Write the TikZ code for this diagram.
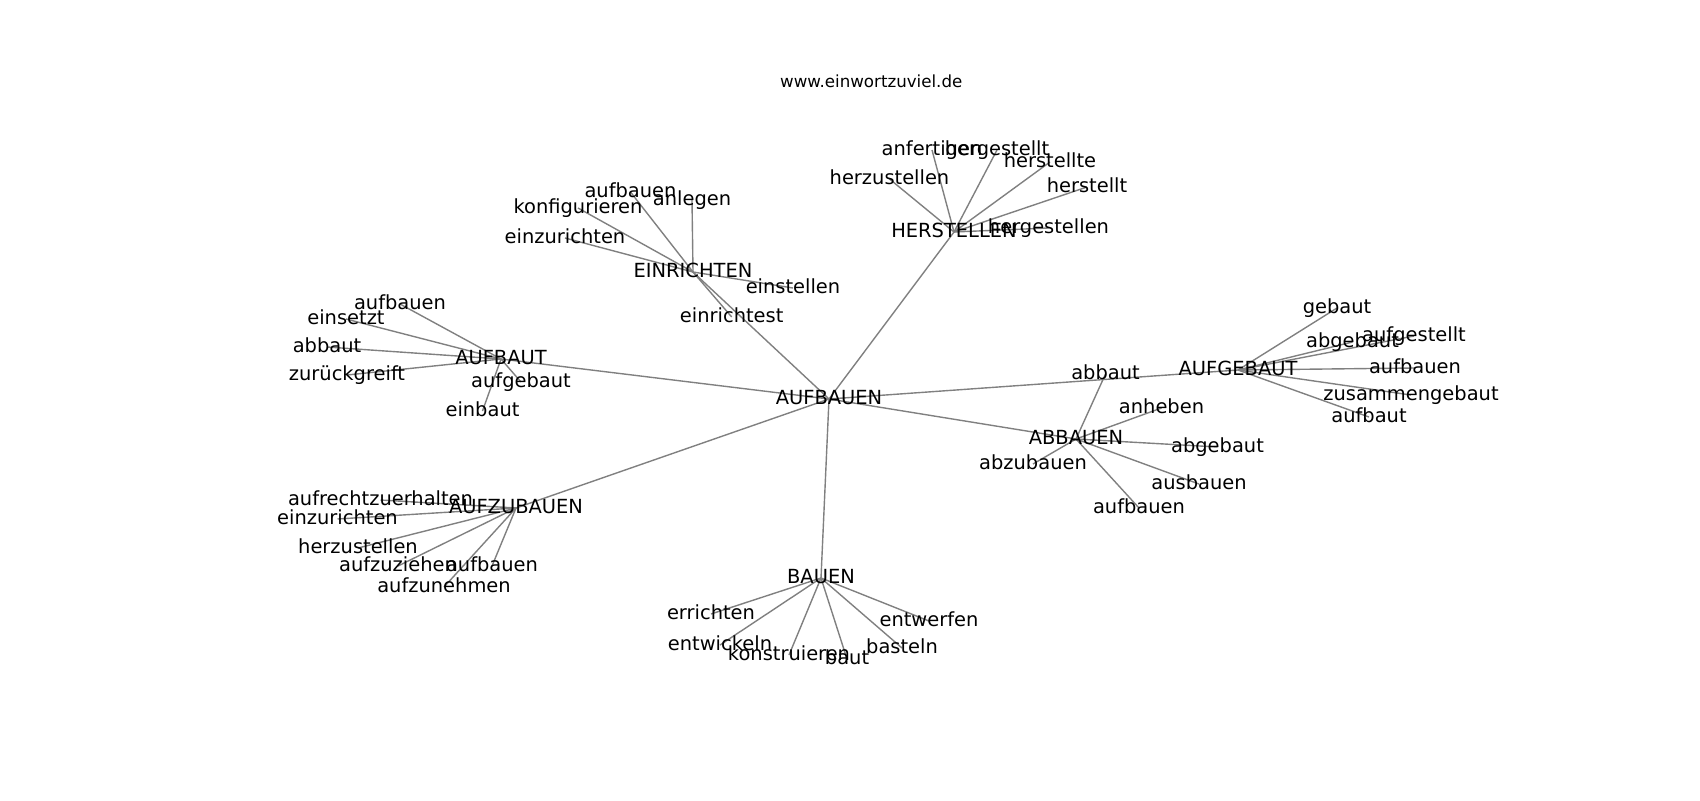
\documentclass[tikz,border=0pt]{standalone}
\usepackage{fontspec}
\setmainfont{DejaVu Sans}
\usetikzlibrary{backgrounds}
\begin{document}
\begin{tikzpicture}[x=0.72pt,y=-0.72pt,
  lbl/.style={font=\fontsize{14}{16}\selectfont, inner sep=0pt, text height=10.64pt, text depth=2.91pt},
  ttl/.style={font=\fontsize{12}{14}\selectfont, inner sep=0pt, anchor=base},
  edge/.style={draw=gray, line width=1pt}]
\useasboundingbox (0,0) rectangle (1700,800);
\node[ttl] (title) at (871.25,87.7) {www.einwortzuviel.de};
% hubs
\node[lbl] (c)  at (829,399) {AUFBAUEN};
\node[lbl] (hs) at (954,232) {HERSTELLEN};
\node[lbl] (ei) at (693,272) {EINRICHTEN};
\node[lbl] (af) at (501,359) {AUFBAUT};
\node[lbl] (az) at (516,508) {AUFZUBAUEN};
\node[lbl] (ba) at (821,578) {BAUEN};
\node[lbl] (ab) at (1076,439) {ABBAUEN};
\node[lbl] (ag) at (1238,370) {AUFGEBAUT};
% HERSTELLEN
\node[lbl] (hs1) at (932,150) {anfertigen};
\node[lbl] (hs2) at (997,150) {hergestellt};
\node[lbl] (hs3) at (1050,162) {herstellte};
\node[lbl] (hs4) at (889.5,179) {herzustellen};
\node[lbl] (hs5) at (1087,187) {herstellt};
\node[lbl] (hs6) at (1048.5,228) {hergestellen};
% EINRICHTEN
\node[lbl] (ei1) at (630.5,192) {aufbauen};
\node[lbl] (ei2) at (692,200) {anlegen};
\node[lbl] (ei3) at (578,208) {konfigurieren};
\node[lbl] (ei4) at (565,238) {einzurichten};
\node[lbl] (ei5) at (793,288) {einstellen};
\node[lbl] (ei6) at (731.7,317) {einrichtest};
% AUFBAUT
\node[lbl] (af1) at (400,304) {aufbauen};
\node[lbl] (af2) at (346,319) {einsetzt};
\node[lbl] (af3) at (327,347) {abbaut};
\node[lbl] (af4) at (347,375) {zurückgreift};
\node[lbl] (af5) at (521,382) {aufgebaut};
\node[lbl] (af6) at (482.5,411) {einbaut};
% AUFZUBAUEN
\node[lbl] (az1) at (380.5,500) {aufrechtzuerhalten};
\node[lbl] (az2) at (337.5,519) {einzurichten};
\node[lbl] (az3) at (358,548) {herzustellen};
\node[lbl] (az4) at (398,566) {aufzuziehen};
\node[lbl] (az5) at (492,566) {aufbauen};
\node[lbl] (az6) at (444,587) {aufzunehmen};
% BAUEN
\node[lbl] (ba1) at (711,614) {errichten};
\node[lbl] (ba2) at (720,645) {entwickeln};
\node[lbl] (ba3) at (789,655) {konstruieren};
\node[lbl] (ba4) at (847,659) {baut};
\node[lbl] (ba5) at (902,648) {basteln};
\node[lbl] (ba6) at (929,621) {entwerfen};
% ABBAUEN
\node[lbl] (ab1) at (1105.5,374) {abbaut};
\node[lbl] (ab2) at (1161.5,408) {anheben};
\node[lbl] (ab3) at (1217.5,447) {abgebaut};
\node[lbl] (ab4) at (1199,484) {ausbauen};
\node[lbl] (ab5) at (1139,508) {aufbauen};
\node[lbl] (ab6) at (1033,464) {abzubauen};
% AUFGEBAUT
\node[lbl] (ag1) at (1337,308) {gebaut};
\node[lbl] (ag2) at (1414,336) {aufgestellt};
\node[lbl] (ag3) at (1352.5,342) {abgebaut};
\node[lbl] (ag4) at (1415,368) {aufbauen};
\node[lbl] (ag5) at (1411,395) {zusammengebaut};
\node[lbl] (ag6) at (1369,417) {aufbaut};
\begin{scope}[on background layer]
\fill[white] (0,0) rectangle (1700,800);
\foreach \h in {hs,ei,af,az,ba,ab,ag}{
  \draw[edge] (c.center) -- (\h.center);
  \foreach \i in {1,...,6}{
    \draw[edge] (\h.center) -- (\h\i.center);
  }
}
\end{scope}
\end{tikzpicture}
\end{document}
